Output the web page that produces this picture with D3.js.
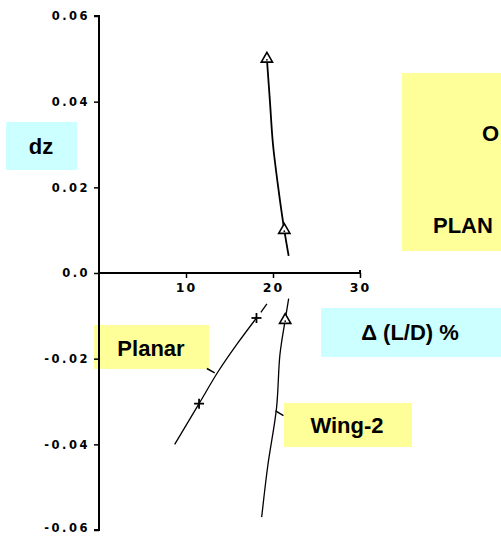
<!DOCTYPE html>
<html>
<head>
<meta charset="utf-8">
<script src="https://cdn.jsdelivr.net/npm/d3@7"></script>
<style>
  html, body { margin: 0; padding: 0; background: #fff; }
  svg { display: block; }
  .box-text { font-family: "Liberation Sans", Arial, sans-serif; font-weight: bold; fill: #000; }
  .tick-label { font-family: "DejaVu Sans", sans-serif; font-weight: bold; fill: #000; }
</style>
</head>
<body>
<svg id="chart" width="501" height="536"></svg>
<script>
// Axis ticks
const xTicks = [10, 20, 30];
const yTicks = [0.06, 0.04, 0.02, 0.0, -0.02, -0.04, -0.06];
const yTickLabels = ["0.06", "0.04", "0.02", "0.0", "-0.02", "-0.04", "-0.06"];

// Wing-2 curve: x = Δ(L/D) %, y = dz (upper branch, then lower branch after the break)
const wing2Upper = [[19.3, 0.050], [19.65, 0.040], [20.0, 0.030], [20.6, 0.020], [21.3, 0.010], [21.8, 0.004]];
const wing2Lower = [[21.8, -0.006], [21.4, -0.011], [20.8, -0.019], [20.4, -0.0316], [19.4, -0.045], [18.7, -0.057]];
const wing2Markers = [[19.3, 0.050], [21.3, 0.010], [21.4, -0.011]];

// Planar curve
const planarTop = [[19.3, -0.0072], [18.6, -0.0092]];
const planarMain = [[18.1, -0.0105], [15.9, -0.0165], [13.7, -0.023], [11.5, -0.0305], [8.7, -0.040]];
const planarMarkers = [[18.1, -0.0105], [11.5, -0.0305]];

// Leader ticks from labels to curves
const planarLeader = [[12.4, -0.0223], [13.3, -0.0233]];
const wing2Leader = [[20.3, -0.0322], [21.2, -0.0333]];

const svg = d3.select("#chart");

const x = d3.scaleLinear().domain([0, 30]).range([99, 360]);
const y = d3.scaleLinear().domain([-0.06, 0.06]).range([530, 16]);

// Background label boxes (drawn first so curves sit on top)
function box(x0, y0, w, h, fill) {
  svg.append("rect").attr("x", x0).attr("y", y0).attr("width", w).attr("height", h).attr("fill", fill);
}
box(402, 73, 110, 178, "#ffff99");
box(6, 122, 71, 48, "#ccffff");
box(321, 308, 190, 49, "#ccffff");
box(94, 325, 115, 44, "#ffff99");
box(284, 403, 128, 44, "#ffff99");

// Y axis
const yAxis = d3.axisLeft(y).tickValues(yTicks).tickSize(5).tickFormat((d, i) => yTickLabels[i]);
const gy = svg.append("g").attr("transform", `translate(${x(0)},0)`).call(yAxis);
gy.select(".domain").attr("stroke", "#000").attr("stroke-width", 2).attr("d", `M-5,${y(0.06)}H0V${y(-0.06)}H-5`);
gy.selectAll(".tick line").attr("stroke", "#000").attr("stroke-width", 1.5);
gy.selectAll(".tick text").attr("class", "tick-label").attr("font-size", 11.5)
  .attr("letter-spacing", 2.5).attr("x", -9).attr("dy", (d, i) => i === yTicks.length - 1 ? "0.15em" : "0.32em");

// X axis
const xAxis = d3.axisBottom(x).tickValues(xTicks).tickSize(5).tickFormat(d3.format("d"));
const gx = svg.append("g").attr("transform", `translate(0,${y(0)})`).call(xAxis);
gx.select(".domain").attr("stroke", "#000").attr("stroke-width", 2).attr("d", `M${x(0)},0H${x(30)}V-3`);
gx.selectAll(".tick line").attr("stroke", "#000").attr("stroke-width", 1.5);
gx.selectAll(".tick text").attr("class", "tick-label").attr("font-size", 12.5)
  .attr("letter-spacing", 2).attr("y", 10);

// Curves
const line = d3.line().x(d => x(d[0])).y(d => y(d[1])).curve(d3.curveCatmullRom.alpha(0.5));
const plain = d3.line().x(d => x(d[0])).y(d => y(d[1]));

svg.append("path").attr("d", line(wing2Upper)).attr("fill", "none").attr("stroke", "#000").attr("stroke-width", 1.8);
svg.append("path").attr("d", line(wing2Lower)).attr("fill", "none").attr("stroke", "#000").attr("stroke-width", 1.3);
svg.append("path").attr("d", plain(planarTop)).attr("fill", "none").attr("stroke", "#000").attr("stroke-width", 1.3);
svg.append("path").attr("d", line(planarMain)).attr("fill", "none").attr("stroke", "#000").attr("stroke-width", 1.3);

svg.append("path").attr("d", plain(planarLeader)).attr("fill", "none").attr("stroke", "#000").attr("stroke-width", 1.5);
svg.append("path").attr("d", plain(wing2Leader)).attr("fill", "none").attr("stroke", "#000").attr("stroke-width", 1.5);

// Triangle markers
const tri = d3.symbol().type(d3.symbolTriangle).size(55);
svg.selectAll(".tri").data(wing2Markers).enter().append("path")
  .attr("class", "tri")
  .attr("d", tri)
  .attr("transform", d => `translate(${x(d[0])},${y(d[1])})`)
  .attr("fill", "#fff").attr("stroke", "#000").attr("stroke-width", 1.6);
svg.selectAll(".tridot").data(wing2Markers).enter().append("circle")
  .attr("cx", d => x(d[0])).attr("cy", d => y(d[1]) + 1).attr("r", 0.9).attr("fill", "#000");

// Plus markers
svg.selectAll(".plus").data(planarMarkers).enter().append("g")
  .attr("transform", d => `translate(${x(d[0])},${y(d[1])})`)
  .each(function () {
    const g = d3.select(this);
    g.append("line").attr("x1", -5).attr("x2", 5).attr("y1", 0).attr("y2", 0).attr("stroke", "#000").attr("stroke-width", 1.8);
    g.append("line").attr("x1", 0).attr("x2", 0).attr("y1", -5).attr("y2", 5).attr("stroke", "#000").attr("stroke-width", 1.8);
  });

// Label texts
function label(tx, ty, text, size, anchor) {
  svg.append("text").attr("class", "box-text").attr("x", tx).attr("y", ty)
    .attr("font-size", size).attr("text-anchor", anchor || "middle").text(text);
}
label(41, 154, "dz", 22);
label(410, 340, "Δ (L/D) %", 22);
label(151, 356, "Planar", 22);
label(347, 433, "Wing-2", 22);
label(482, 141, "O", 22, "start");
label(433, 233, "PLAN", 22, "start");
</script>
</body>
</html>
